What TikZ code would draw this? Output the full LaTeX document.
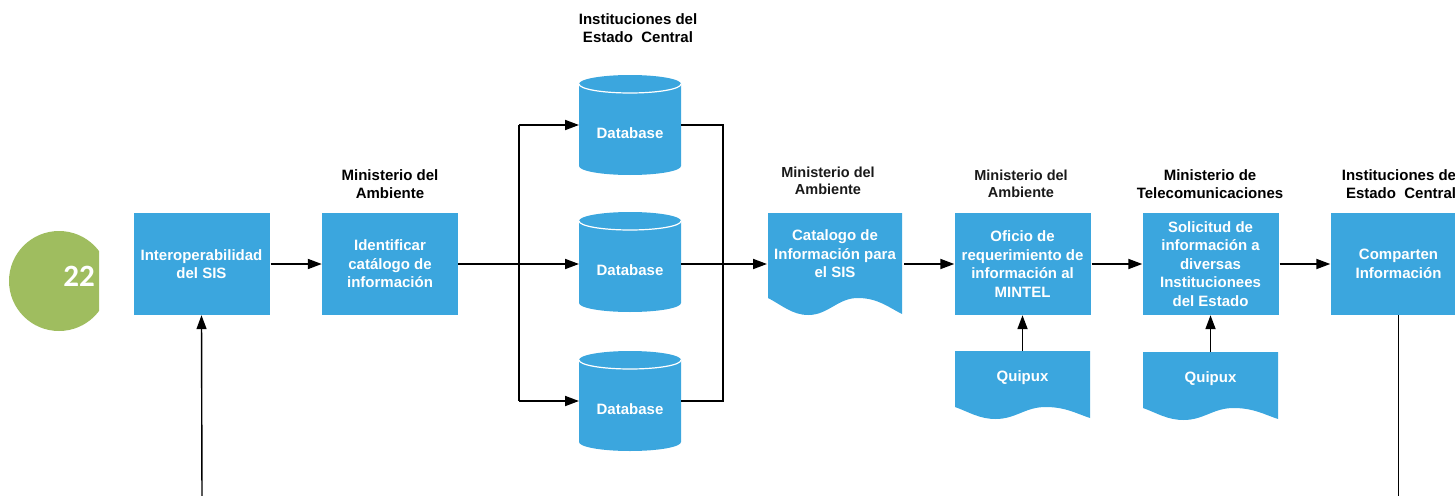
\documentclass[tikz,border=0pt]{standalone}
\usepackage{fontspec}
\setmainfont{Liberation Sans}
\newfontfamily\numfont{Carlito}
\usetikzlibrary{arrows.meta}
\definecolor{boxblue}{RGB}{59,166,222}
\definecolor{circgreen}{RGB}{159,189,95}
\newcommand\docshape[5]{%
 \fill[boxblue] (#1,#2) -- ({#1+#3},#2) -- ({#1+#3},{#2+#4-1})
 .. controls ({#1+0.9*#3},{#2+#4-0.45*#5}) and ({#1+0.82*#3},{#2+#4-#5}) .. ({#1+0.67*#3},{#2+#4-#5})
 .. controls ({#1+0.52*#3},{#2+#4-#5}) and ({#1+0.45*#3},{#2+#4}) .. ({#1+0.3*#3},{#2+#4})
 .. controls ({#1+0.18*#3},{#2+#4}) and ({#1+0.1*#3},{#2+#4-0.6*#5}) .. (#1,{#2+#4-#5}) -- cycle;}
\tikzset{
 boxtext/.style={text=white, font=\bfseries\fontsize{15}{18.5}\selectfont, align=center},
 box/.style={boxtext, fill=boxblue, minimum width=136pt, minimum height=102pt, inner sep=0pt},
 ghost/.style={inner sep=0pt, outer sep=0pt, draw=none},
 head/.style={font=\bfseries\fontsize{15}{18}\selectfont, align=center},
 blur/.style={font=\bfseries\fontsize{14.5}{17.5}\selectfont, align=center, text=black!90},
 conn/.style={line width=1.8pt},
 arr/.style={line width=1.8pt, -{Triangle[length=14pt,width=10pt]}},
 thinconn/.style={line width=1.4pt},
 cyl/.pic={
  \fill[boxblue] (-51,-41) -- (-51,41) .. controls (-51,46) and (-28.2,50) .. (0,50)
    .. controls (28.2,50) and (51,46) .. (51,41) -- (51,-41)
    .. controls (51,-46) and (28.2,-50) .. (0,-50)
    .. controls (-28.2,-50) and (-51,-46) .. (-51,-41) -- cycle;
  \draw[white, line width=1.2pt] (-51,-41) .. controls (-51,-36) and (-28.2,-32) .. (0,-32)
    .. controls (28.2,-32) and (51,-36) .. (51,-41);
 }
}
\begin{document}
\begin{tikzpicture}[x=1pt,y=-1pt]
\useasboundingbox (0,0) rectangle (1455,495);
\clip (0,0) rectangle (1455,495);

% green circle
\begin{scope}
 \clip (0,0) rectangle (99,495);
 \node[circle, fill=circgreen, minimum size=100pt, inner sep=0pt] (circ) at (59,281) {};
\end{scope}
\node[text=white, font=\numfont\bfseries\fontsize{31}{31}\selectfont] (num) at (79,276) {22};

% boxes
\node[box] (b1) at (201.5,264) {Interoperabilidad\\del SIS};
\node[box] (b2) at (390,264) {Identificar\\catálogo de\\información};
\node[head] (h2) at (390,184) {Ministerio del\\Ambiente};

% databases
\node[head] (h3) at (638,28) {Instituciones del\\Estado~~Central};
\pic at (630,125) {cyl};
\pic at (630,262) {cyl};
\pic at (630,401) {cyl};
\node[ghost, minimum width=102pt, minimum height=100pt, label={[boxtext, yshift=-8pt]center:Database}] (db1) at (630,125) {};
\node[ghost, minimum width=102pt, minimum height=100pt, label={[boxtext, yshift=-8pt]center:Database}] (db2) at (630,262) {};
\node[ghost, minimum width=102pt, minimum height=100pt, label={[boxtext, yshift=-8pt]center:Database}] (db3) at (630,401) {};

% catalog document
\docshape{768}{213}{134}{102}{17}
\node[ghost, minimum width=134pt, minimum height=102pt, label={[boxtext, yshift=10pt]center:{Catalogo de\\Información para\\el SIS}}] (cat) at (835,264) {};
\node[blur] (h4) at (828,181) {Ministerio del\\Ambiente};

% oficio
\node[box] (ofi) at (1022.5,264) {Oficio de\\requerimiento de\\información al\\MINTEL};
\node[blur] (h5) at (1021,184) {Ministerio del\\Ambiente};
\docshape{955}{351}{135}{68}{12}
\node[ghost, minimum width=135pt, minimum height=68pt, label={[boxtext, yshift=7pt]center:Quipux}] (q1) at (1022.5,385) {};

% solicitud
\node[box] (sol) at (1210.5,264) {Solicitud de\\información a\\diversas\\Institucionees\\del Estado};
\node[head] (h6) at (1210,184) {Ministerio de\\Telecomunicaciones};
\docshape{1143}{352}{135}{68}{12}
\node[ghost, minimum width=135pt, minimum height=68pt, label={[boxtext, yshift=7pt]center:Quipux}] (q2) at (1210.5,386) {};

% comparten
\node[box] (comp) at (1398.5,264) {Comparten\\Información};
\node[head] (h7) at (1401,184) {Instituciones del\\Estado~~Central};

% junctions
\coordinate (jl) at (519,264);
\coordinate (jr) at (723,264);
\coordinate (bl) at (202,500);
\coordinate (br) at (1398.5,500);

% connectors
\draw[arr] ([xshift=1pt]b1.east) -- (b2.west);
\draw[conn] (b2.east) -- (jl);
\draw[arr] (jl) -- (jl -| db2.west);
\draw[conn] (jl |- db1.west) -- (jl |- db3.west);
\draw[arr] (jl |- db1.west) -- (db1.west);
\draw[arr] (jl |- db3.west) -- (db3.west);
\draw[conn] (db1.east) -- (jr |- db1.east) -- (jr |- db3.east) -- (db3.east);
\draw[arr] (db2.east |- cat.west) -- ([xshift=-1pt]cat.west);
\draw[arr] ([xshift=2pt]cat.east) -- (ofi.west);
\draw[arr] ([xshift=1pt]ofi.east) -- (sol.west);
\draw[arr] ([xshift=1pt]sol.east) -- (comp.west);
\draw[arr] (q1.north) -- (ofi.south);
\draw[arr] (q2.north) -- (sol.south);
\draw[thinconn, -{Triangle[length=14pt,width=10pt]}] (bl) -- (b1.south);
\draw[thinconn] (comp.south) -- (br);
\end{tikzpicture}
\end{document}
